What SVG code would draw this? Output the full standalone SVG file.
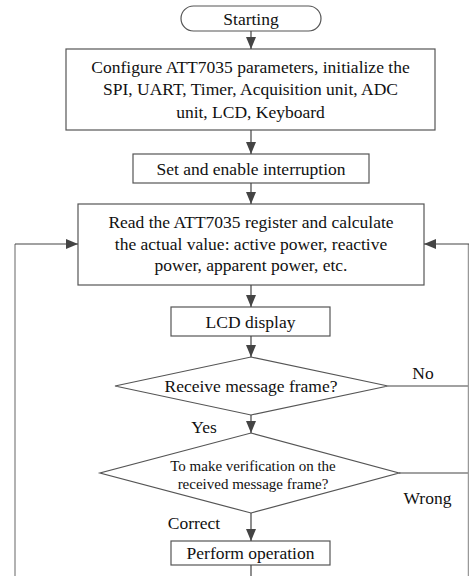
<svg xmlns="http://www.w3.org/2000/svg" width="469" height="576" viewBox="0 0 469 576">
<style>
.box{fill:#fff;stroke:#555;stroke-width:1.2}
.ln{stroke:#444;stroke-width:1.2;fill:none}
.loop{stroke:#999;stroke-width:1.5;fill:none}
</style>
<defs>
<marker id="ah" markerWidth="12" markerHeight="10" refX="12" refY="5" orient="auto" markerUnits="userSpaceOnUse">
<path d="M0,0 L12,5 L0,10 Z" fill="#444"/>
</marker>
</defs>
<g id="start"><rect class="box" x="181" y="6" width="140" height="25" rx="12.5"/><text x="251" y="24.5" font-family="Liberation Serif" font-size="17.5" text-anchor="middle" fill="#111">Starting</text></g>
<g id="config"><rect class="box" x="66" y="49" width="369" height="81"/>
<text x="250.5" y="73" font-family="Liberation Serif" font-size="17.5" text-anchor="middle" fill="#111">Configure ATT7035 parameters, initialize the</text>
<text x="250.5" y="95" font-family="Liberation Serif" font-size="17.5" text-anchor="middle" fill="#111">SPI, UART, Timer, Acquisition unit, ADC</text>
<text x="250.5" y="118" font-family="Liberation Serif" font-size="17.5" text-anchor="middle" fill="#111">unit, LCD, Keyboard</text></g>
<g id="interrupt"><rect class="box" x="133" y="154" width="236" height="29"/><text x="251" y="174.5" font-family="Liberation Serif" font-size="17.5" text-anchor="middle" fill="#111">Set and enable interruption</text></g>
<g id="read"><rect class="box" x="78" y="204" width="346" height="81"/>
<text x="251" y="228" font-family="Liberation Serif" font-size="17.5" text-anchor="middle" fill="#111">Read the ATT7035 register and calculate</text>
<text x="251" y="249.5" font-family="Liberation Serif" font-size="17.5" text-anchor="middle" fill="#111">the actual value: active power, reactive</text>
<text x="251" y="271" font-family="Liberation Serif" font-size="17.5" text-anchor="middle" fill="#111">power, apparent power, etc.</text></g>
<g id="lcd"><rect class="box" x="171" y="307" width="159" height="29"/><text x="250.5" y="327.5" font-family="Liberation Serif" font-size="17.5" text-anchor="middle" fill="#111">LCD display</text></g>
<g id="receive"><polygon class="box" points="251,357 388,386 251,415 115,386"/><text x="251" y="392" font-family="Liberation Serif" font-size="17.5" text-anchor="middle" fill="#111">Receive message frame?</text></g>
<g id="verify"><polygon class="box" points="251,433 399,473 251,513 100,473"/>
<text x="253" y="470.5" font-family="Liberation Serif" font-size="15" text-anchor="middle" fill="#111">To make verification on the</text>
<text x="253" y="488.5" font-family="Liberation Serif" font-size="15" text-anchor="middle" fill="#111">received message frame?</text></g>
<g id="perform"><rect class="box" x="171" y="541" width="159" height="24"/><text x="250.5" y="559" font-family="Liberation Serif" font-size="17.5" text-anchor="middle" fill="#111">Perform operation</text></g>
<g id="connectors">
<line class="ln" x1="251" y1="31" x2="251" y2="49" marker-end="url(#ah)"/>
<line class="ln" x1="251" y1="130" x2="251" y2="154" marker-end="url(#ah)"/>
<line class="ln" x1="251" y1="183" x2="251" y2="204" marker-end="url(#ah)"/>
<line class="ln" x1="251" y1="285" x2="251" y2="307" marker-end="url(#ah)"/>
<line class="ln" x1="251" y1="336" x2="251" y2="357" marker-end="url(#ah)"/>
<line class="ln" x1="251" y1="415" x2="251" y2="433" marker-end="url(#ah)"/>
<line class="ln" x1="251" y1="513" x2="251" y2="541" marker-end="url(#ah)"/>
<line class="ln" x1="251" y1="565" x2="251" y2="576"/>
<line class="ln" x1="388" y1="386" x2="469" y2="386"/>
<line class="ln" x1="399" y1="473" x2="469" y2="473"/>
<line class="loop" x1="15" y1="576" x2="15" y2="244"/>
<line class="ln" x1="15" y1="244" x2="78" y2="244" marker-end="url(#ah)"/>
<line class="loop" x1="468.5" y1="576" x2="468.5" y2="244"/>
<line class="ln" x1="469" y1="244" x2="424" y2="244" marker-end="url(#ah)"/>
<text x="423" y="379" font-family="Liberation Serif" font-size="17.5" text-anchor="middle" fill="#111">No</text>
<text x="204" y="433" font-family="Liberation Serif" font-size="17.5" text-anchor="middle" fill="#111">Yes</text>
<text x="427.5" y="504" font-family="Liberation Serif" font-size="17.5" text-anchor="middle" fill="#111">Wrong</text>
<text x="194" y="529" font-family="Liberation Serif" font-size="17.5" text-anchor="middle" fill="#111">Correct</text>
</g>
</svg>
